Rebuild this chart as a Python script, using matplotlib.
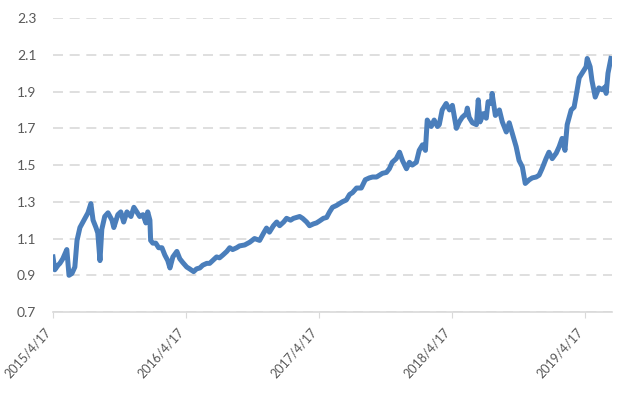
import pandas as pd
import matplotlib
matplotlib.use("Agg")
import matplotlib.pyplot as plt
import matplotlib.transforms as mtransforms

# days since 2015/4/17 and the index value
start_date = "2015-04-17"
day_offsets = [
    0, 5, 14, 19, 27, 38, 44, 52, 60, 66, 74, 85, 96, 104, 110, 118, 123, 129,
    134, 142, 151, 162, 167, 178, 186, 194, 203, 214, 222, 230, 238, 247, 255,
    260, 266, 268, 274, 282, 290, 299, 307, 315, 321, 329, 340, 348, 356, 367,
    375, 386, 394, 403, 411, 422, 430, 438, 449, 457, 466, 477, 485, 493, 504,
    512, 526, 540, 553, 567, 578, 586, 594, 605, 614, 622, 633, 641, 652, 660,
    668, 677, 685, 696, 704, 715, 723, 731, 742, 751, 759, 767, 778, 786, 794,
    805, 814, 822, 833, 846, 857, 868, 877, 888, 896, 904, 915, 923, 931, 942,
    951, 959, 970, 978, 986, 997, 1005, 1014, 1022, 1027, 1038, 1046, 1055,
    1060, 1068, 1079, 1088, 1096, 1107, 1115, 1123, 1134, 1137, 1142, 1151,
    1162, 1167, 1172, 1181, 1189, 1194, 1203, 1205, 1214, 1225, 1233, 1244,
    1252, 1260, 1271, 1279, 1288, 1296, 1307, 1315, 1326, 1334, 1342, 1353,
    1361, 1370, 1381, 1389, 1397, 1405, 1411, 1422, 1430, 1435, 1444, 1452,
    1463, 1466, 1474, 1479, 1488, 1498, 1507, 1515, 1518, 1523, 1531,
]
values = [
    1.00, 0.93, 0.955, 0.965, 0.99, 1.04, 0.90, 0.91, 0.945, 1.09, 1.16, 1.20,
    1.24, 1.29, 1.20, 1.16, 1.13, 0.98, 1.15, 1.22, 1.24, 1.20, 1.16, 1.23,
    1.245, 1.19, 1.245, 1.22, 1.27, 1.245, 1.22, 1.23, 1.185, 1.245, 1.20,
    1.09, 1.075, 1.075, 1.05, 1.05, 1.01, 0.98, 0.94, 1.00, 1.03, 0.99, 0.97,
    0.945, 0.935, 0.92, 0.935, 0.94, 0.955, 0.965, 0.965, 0.98, 1.00, 0.995,
    1.01, 1.03, 1.05, 1.04, 1.05, 1.06, 1.065, 1.08, 1.10, 1.09, 1.13, 1.157,
    1.135, 1.17, 1.19, 1.17, 1.19, 1.21, 1.20, 1.21, 1.215, 1.22, 1.21, 1.19,
    1.17, 1.18, 1.185, 1.195, 1.21, 1.215, 1.245, 1.27, 1.28, 1.29, 1.30,
    1.31, 1.34, 1.35, 1.375, 1.375, 1.42, 1.43, 1.435, 1.435, 1.445, 1.455,
    1.46, 1.48, 1.515, 1.535, 1.57, 1.525, 1.48, 1.515, 1.50, 1.515, 1.58,
    1.61, 1.58, 1.745, 1.71, 1.745, 1.71, 1.72, 1.80, 1.835, 1.80, 1.825,
    1.70, 1.735, 1.76, 1.78, 1.81, 1.76, 1.73, 1.72, 1.855, 1.735, 1.78,
    1.755, 1.845, 1.835, 1.89, 1.77, 1.80, 1.735, 1.68, 1.73, 1.675, 1.60,
    1.525, 1.49, 1.40, 1.42, 1.43, 1.435, 1.445, 1.48, 1.535, 1.57, 1.535,
    1.565, 1.60, 1.645, 1.58, 1.72, 1.80, 1.815, 1.87, 1.975, 2.00, 2.035,
    2.08, 2.035, 1.96, 1.87, 1.92, 1.91, 1.925, 1.89, 2.00, 2.08,
]
tick_labels = ["2015/4/17", "2016/4/17", "2017/4/17", "2018/4/17", "2019/4/17"]
y_ticks = [0.7, 0.9, 1.1, 1.3, 1.5, 1.7, 1.9, 2.1, 2.3]

plt.rcParams['font.family'] = ['Lato', 'DejaVu Sans']

dates = pd.to_datetime(start_date) + pd.to_timedelta(day_offsets, unit="D")
tick_dates = pd.to_datetime(tick_labels, format="%Y/%m/%d")

fig = plt.figure(figsize=(6.21, 3.93), dpi=100)
ax = fig.add_axes([0.0853, 0.206, 0.9002, 0.748])

ax.plot(dates, values, color='#4a7ebb', lw=3.6, solid_joinstyle='round')

ax.set_ylim(0.7, 2.3)
ax.set_yticks(y_ticks)
ax.set_yticklabels([f"{t:.1f}" for t in y_ticks])
ax.set_xlim(dates[0], dates[-1] + pd.Timedelta(days=3))
ax.set_xticks(tick_dates)
ax.set_xticklabels(tick_labels, rotation=48, ha='right')

# nudge the slanted date labels a bit left of their ticks
shift = mtransforms.ScaledTranslation(-5 / 100, 0, fig.dpi_scale_trans)
for lbl in ax.get_xticklabels():
    lbl.set_transform(lbl.get_transform() + shift)

ax.grid(axis='y', color='#d9d9d9', lw=1.2, ls=(0, (6, 4)))
ax.set_axisbelow(True)
for side in ['left', 'right', 'top']:
    ax.spines[side].set_visible(False)
ax.spines['bottom'].set_color('#d9d9d9')
ax.spines['bottom'].set_linewidth(1.2)

ax.tick_params(axis='y', length=0, pad=12, labelsize=10, labelcolor='#595959')
ax.tick_params(axis='x', length=4, color='#d9d9d9', pad=6, labelsize=9,
               labelcolor='#595959')

fig.savefig('out.png', dpi=100)
